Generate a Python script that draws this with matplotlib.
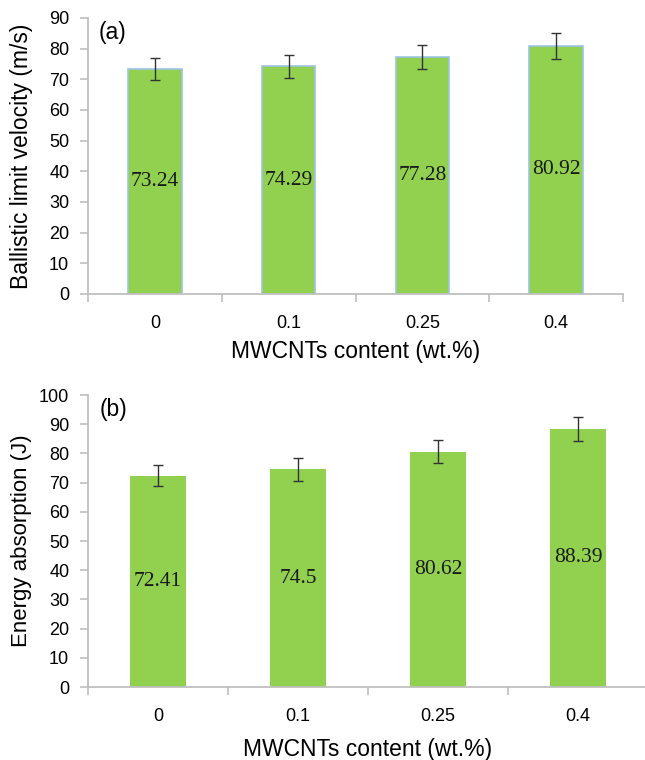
import matplotlib
matplotlib.use("Agg")
import matplotlib.pyplot as plt
import numpy as np

categories = ["0", "0.1", "0.25", "0.4"]
velocity = [73.24, 74.29, 77.28, 80.92]
velocity_err = [3.6, 3.7, 4.0, 4.3]
energy = [72.41, 74.5, 80.62, 88.39]
energy_err = [3.6, 3.8, 3.8, 4.0]

GREEN = "#92D050"
SPINE = "#BFBFBF"
sans = ["Liberation Sans", "Arial", "DejaVu Sans"]
serif = ["Liberation Serif", "Times New Roman", "DejaVu Serif"]

fig = plt.figure(figsize=(6.45, 7.6), dpi=100)
ax1 = fig.add_axes([88/645, 1-294/760, 535/645, 276/760])
ax2 = fig.add_axes([88/645, 1-687/760, 560/645, 292/760])


def style(ax, values, errs, ymax, label, tag, edge, ylab_x, xlab_y, ylab_fs):
    x = np.arange(len(categories))
    ax.bar(x, values, width=0.40, color=GREEN,
           edgecolor=edge if edge else GREEN, linewidth=1.2 if edge else 0,
           zorder=2)
    ax.errorbar(x, values, yerr=errs, fmt="none", ecolor="#333333",
                elinewidth=1.0, capsize=3.8, capthick=1.0, zorder=3)
    for xi, v in zip(x, values):
        ax.text(xi, v / 2, f"{v:g}", ha="center", va="center",
                fontsize=15.5, family=serif, color="#1a1a1a", zorder=4)
    ax.set_xlim(-0.5, len(categories) - 0.5)
    ax.set_ylim(0, ymax)
    ax.set_yticks(np.arange(0, ymax + 1, 10))
    ax.set_xticks(x)
    ax.set_xticklabels(categories)
    ax.set_xticks(np.arange(-0.5, len(categories), 1.0), minor=True)
    ax.tick_params(axis="x", which="major", length=0, pad=15,
                   labelsize=13)
    ax.tick_params(axis="x", which="minor", length=6, width=1.2,
                   color=SPINE, direction="out")
    ax.tick_params(axis="y", length=5.5, width=1.2, color=SPINE,
                   direction="out", pad=8, labelsize=13)
    for lab in ax.get_xticklabels() + ax.get_yticklabels():
        lab.set_family(sans)
    for s in ["top", "right"]:
        ax.spines[s].set_visible(False)
    for s in ["left", "bottom"]:
        ax.spines[s].set_color(SPINE)
        ax.spines[s].set_linewidth(1.3)
    ax.set_ylabel(label, fontsize=ylab_fs, family=sans)
    ax.yaxis.set_label_coords(ylab_x, 0.5)
    ax.set_xlabel("MWCNTs content (wt.%)", fontsize=16.5, family=sans)
    ax.xaxis.set_label_coords(0.5, xlab_y)
    ax.text(0.02, 0.99, tag, transform=ax.transAxes, ha="left", va="top",
            fontsize=16.5, family=sans)


style(ax1, velocity, velocity_err, 90, "Ballistic limit velocity (m/s)",
      "(a)", "#9DC3E6", -0.103, -0.167, 16.5)
style(ax2, energy, energy_err, 100, "Energy absorption (J)",
      "(b)", None, -0.100, -0.175, 16)

fig.savefig("out.png", dpi=100)
